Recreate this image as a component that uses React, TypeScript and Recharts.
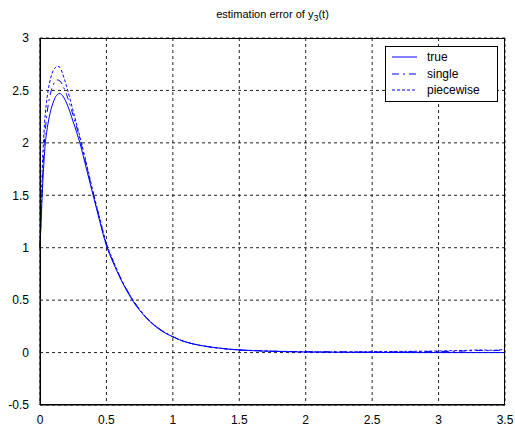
import { CartesianGrid, Line, LineChart, XAxis, YAxis } from "recharts";

const times = [
  0, 0.01, 0.02, 0.03, 0.04, 0.05, 0.07, 0.09, 0.11, 0.13, 0.15, 0.17, 0.2, 0.25, 0.3, 0.35, 0.4, 0.45,
  0.5, 0.55, 0.6, 0.7, 0.8, 0.9, 1.0, 1.1, 1.2, 1.3, 1.4, 1.5, 1.6, 1.8, 2.0, 2.2, 2.4, 2.6, 2.8, 3.0,
  3.1, 3.2, 3.3, 3.4, 3.5,
];

const trueValues = [
  1.0, 1.3, 1.6, 1.82, 2.0, 2.1, 2.25, 2.35, 2.42, 2.46, 2.47, 2.45, 2.38, 2.2, 2.0, 1.75, 1.5, 1.25,
  1.02, 0.86, 0.72, 0.49, 0.33, 0.22, 0.15, 0.1, 0.07, 0.05, 0.035, 0.025, 0.018, 0.01, 0.005, 0.003,
  0.002, 0.001, 0, 0, 0, 0, 0, 0, 0,
];

const singleValues = [
  1.0, 1.35, 1.7, 1.95, 2.12, 2.25, 2.42, 2.52, 2.58, 2.6, 2.59, 2.55, 2.46, 2.26, 2.04, 1.78, 1.52,
  1.27, 1.03, 0.87, 0.73, 0.5, 0.335, 0.225, 0.152, 0.1, 0.07, 0.05, 0.035, 0.025, 0.02, 0.012, 0.008,
  0.008, 0.005, 0.006, 0.008, 0.01, 0.012, 0.015, 0.02, 0.018, 0.025,
];

const piecewiseValues = [
  1.0, 1.45, 1.85, 2.1, 2.28, 2.4, 2.56, 2.66, 2.71, 2.73, 2.72, 2.66, 2.54, 2.3, 2.06, 1.8, 1.53, 1.28,
  1.04, 0.88, 0.73, 0.5, 0.335, 0.225, 0.15, 0.1, 0.07, 0.05, 0.035, 0.025, 0.02, 0.012, 0.008, 0.006,
  0.008, 0.01, 0.012, 0.015, 0.018, 0.02, 0.025, 0.022, 0.03,
];

const xTicks = [0, 0.5, 1, 1.5, 2, 2.5, 3, 3.5];
const yTicks = [-0.5, 0, 0.5, 1, 1.5, 2, 2.5, 3];

const seriesStyles = [
  { key: "true", dash: undefined },
  { key: "single", dash: "7 4 2 4" },
  { key: "piecewise", dash: "3 2" },
];

const data = times.map((t, i) => ({
  t,
  true: trueValues[i],
  single: singleValues[i],
  piecewise: piecewiseValues[i],
}));

const FONT = "'Liberation Sans', Arial, sans-serif";

function LegendBox() {
  return (
    <div
      style={{
        position: "absolute",
        left: 385,
        top: 46,
        border: "1px solid #000",
        background: "#fff",
        width: 113,
        height: 56,
        boxSizing: "border-box",
        padding: "2px 0 0 6px",
        fontFamily: FONT,
        fontSize: 12,
      }}
    >
      {seriesStyles.map((s) => (
        <div key={s.key} style={{ display: "flex", alignItems: "center", height: 16.5 }}>
          <svg width={26} height={6} style={{ marginRight: 9 }}>
            <line x1={0} y1={3} x2={25} y2={3} stroke="#0000ff" strokeWidth={1} strokeDasharray={s.dash} />
          </svg>
          <span>{s.key}</span>
        </div>
      ))}
    </div>
  );
}

export default function App() {
  return (
    <div style={{ position: "absolute", left: 0, top: 0, width: 515, height: 429, background: "#fff" }}>
      <div
        style={{
          position: "absolute",
          left: 40,
          width: 465,
          top: 8,
          textAlign: "center",
          fontFamily: FONT,
          fontSize: 11,
          zIndex: 2,
        }}
      >
        estimation error of y<sub style={{ fontSize: 9 }}>3</sub>(t)
      </div>
      <LineChart
        width={515}
        height={429}
        data={data}
        margin={{ top: 38, right: 10, bottom: 4, left: 0 }}
      >
        <CartesianGrid stroke="#222" strokeDasharray="3 3" />
        <XAxis
          dataKey="t"
          type="number"
          domain={[0, 3.5]}
          ticks={xTicks}
          height={20}
          interval={0}
          stroke="#000"
          tickLine={false}
          tickMargin={4}
          tick={{ fill: "#000", fontSize: 12, fontFamily: FONT }}
        />
        <YAxis
          type="number"
          domain={[-0.5, 3]}
          ticks={yTicks}
          width={40}
          interval={0}
          stroke="#000"
          tickLine={false}
          tickMargin={5}
          tick={{ fill: "#000", fontSize: 12, fontFamily: FONT }}
        />
        {seriesStyles.map((s) => (
          <Line
            key={s.key}
            type="monotone"
            dataKey={s.key}
            stroke="#0000ff"
            strokeWidth={1}
            strokeDasharray={s.dash}
            dot={false}
            isAnimationActive={false}
          />
        ))}
      </LineChart>
      <div
        style={{
          position: "absolute",
          left: 40,
          top: 38,
          width: 465,
          height: 367,
          border: "1px solid #000",
          boxSizing: "border-box",
          pointerEvents: "none",
        }}
      />
      <LegendBox />
    </div>
  );
}
